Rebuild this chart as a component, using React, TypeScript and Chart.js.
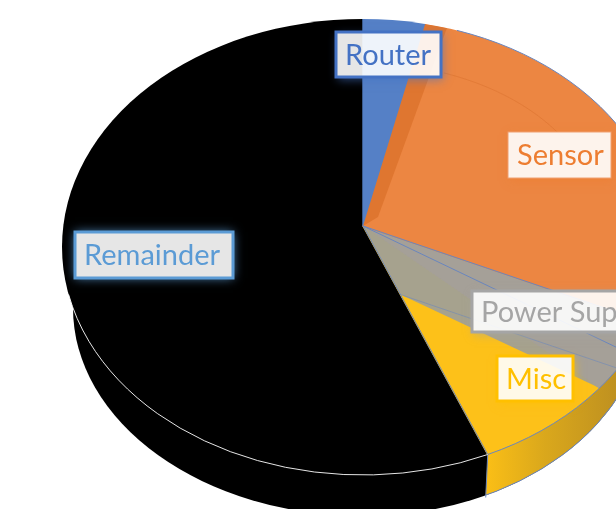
import React, { useEffect, useRef } from "react";
import { Chart, registerables } from "chart.js";

Chart.register(...registerables);

const categories = ["Router", "Sensor", "Power Supply", "Misc", "Remainder"];
const shares = [3.3, 27.9, 4.8, 7.25, 56.75];

const sliceFills = ["#5580C6", "#EC8642", "#A5A098", "#FDC119", "#000000"];
const labelInk = ["#4472C4", "#ED7D31", "#A5A5A5", "#FFC000", "#5B9BD5"];
const labelEdge = ["#4472C4", "#F0A070", "#A5A5A5", "#FFC000", "#5B9BD5"];
const labelEdgeWidth = [3, 1, 3, 3, 3];
const labelBoxes = [
  [336, 32, 105, 45],
  [508, 132, 103, 46],
  [472, 291, 170, 41],
  [497, 356, 76, 45],
  [75, 232, 158, 46],
];

const APEX_X = 363;
const APEX_Y = 226;
const RX = 301;
const RY_TOP = 206;
const RY_BOTTOM = 249;
const OVERSHOOT = 1.4;
const RIM_CY = 247;
const RIM_RY = 228;
const BASE_CY = 308;
const BASE_RY = 208;
const BASE_RX_LEFT = 290;
const BASE_RX_RIGHT = 282;
const FONT = "29px Lato, Carlito, sans-serif";

function project(rad: number, r = 1) {
  const ux = Math.sin(rad);
  const uy = -Math.cos(rad);
  const sy = uy < 0 ? RY_TOP : RY_BOTTOM;
  return { x: APEX_X + ux * RX * r, y: APEX_Y + uy * sy * r };
}

// where the ray from the apex in a slice direction meets the tilted rim
function rim(rad: number) {
  const p = project(rad);
  const dx = (p.x - APEX_X) / RX;
  const dy = (p.y - APEX_Y) / RIM_RY;
  const oy = (APEX_Y - RIM_CY) / RIM_RY;
  const a = dx * dx + dy * dy;
  const b = 2 * oy * dy;
  const c = oy * oy - 1;
  const t = (-b + Math.sqrt(b * b - 4 * a * c)) / (2 * a);
  return { x: APEX_X + (p.x - APEX_X) * t, y: APEX_Y + (p.y - APEX_Y) * t };
}

function rimParam(pt: { x: number; y: number }) {
  return Math.atan2((pt.y - RIM_CY) / RIM_RY, (pt.x - APEX_X) / RX);
}

function basePath(ctx: CanvasRenderingContext2D) {
  ctx.beginPath();
  ctx.ellipse(APEX_X, BASE_CY, BASE_RX_LEFT, BASE_RY, 0, Math.PI / 2, (3 * Math.PI) / 2);
  ctx.ellipse(APEX_X, BASE_CY, BASE_RX_RIGHT, BASE_RY, 0, -Math.PI / 2, Math.PI / 2);
  ctx.closePath();
}

const tiltedPie = {
  id: "tiltedPie",
  beforeDatasetsDraw(chart: any) {
    const ctx: CanvasRenderingContext2D = chart.ctx;
    const arcs = chart.getDatasetMeta(0).data;
    const deg = (a: number) => a + Math.PI / 2;
    const sensor = arcs[1];
    const power = arcs[2];
    const rest = arcs[4];
    const edge = deg(rest.startAngle);
    const footRim = rim(edge);

    // side wall
    ctx.save();
    basePath(ctx);
    ctx.fillStyle = "#000000";
    ctx.fill();
    ctx.beginPath();
    ctx.moveTo(footRim.x, footRim.y);
    ctx.lineTo(footRim.x - 3, footRim.y + 60);
    ctx.lineTo(700, footRim.y + 60);
    ctx.lineTo(700, 200);
    ctx.lineTo(footRim.x, 200);
    ctx.closePath();
    ctx.clip();
    basePath(ctx);
    const grad = ctx.createLinearGradient(485, 0, 616, 0);
    grad.addColorStop(0, "#FBBF16");
    grad.addColorStop(0.45, "#DAA81C");
    grad.addColorStop(1, "#BF9120");
    ctx.fillStyle = grad;
    ctx.fill();
    ctx.strokeStyle = "#6A86BE";
    ctx.lineWidth = 1;
    ctx.stroke();
    ctx.restore();
    ctx.save();
    ctx.strokeStyle = "#6A86BE";
    ctx.beginPath();
    ctx.moveTo(footRim.x, footRim.y);
    ctx.lineTo(footRim.x - 2, footRim.y + 43);
    ctx.stroke();
    ctx.restore();

    // top face: everything below stays inside the tilted rim
    ctx.save();
    ctx.beginPath();
    ctx.ellipse(APEX_X, RIM_CY, RX, RIM_RY, 0, 0, Math.PI * 2);
    ctx.clip();

    const quadrants = [
      [0, 0, 800, APEX_Y, RY_TOP],
      [0, APEX_Y, 800, 700, RY_BOTTOM],
    ];
    for (const [x, y, w, h, ry] of quadrants) {
      ctx.save();
      ctx.beginPath();
      ctx.rect(x, y, w - x, h - y);
      ctx.clip();
      ctx.translate(APEX_X, APEX_Y);
      ctx.scale((OVERSHOOT * RX) / rest.outerRadius, (OVERSHOOT * ry) / rest.outerRadius);
      ctx.translate(-rest.x, -rest.y);
      for (let i = arcs.length - 1; i >= 0; i--) arcs[i].draw(ctx);
      ctx.restore();
    }

    // inner wall of the Sensor slice
    const s0 = deg(sensor.startAngle);
    const sRim = rim(s0);
    const sRim2 = rim(s0 + 0.075);
    ctx.beginPath();
    ctx.moveTo(APEX_X, APEX_Y);
    ctx.lineTo(APEX_X + 15, APEX_Y - 9);
    ctx.lineTo(sRim2.x, sRim2.y);
    ctx.lineTo(sRim.x, sRim.y);
    ctx.closePath();
    ctx.fillStyle = "#DF7630";
    ctx.fill();
    ctx.strokeStyle = "rgba(214,110,45,0.45)";
    ctx.lineWidth = 1;
    ctx.beginPath();
    for (let i = 0; i <= 40; i++) {
      const p = project(s0 + 0.14 + (0.66 * i) / 40, 0.79);
      if (i === 0) ctx.moveTo(p.x, p.y);
      else ctx.lineTo(p.x, p.y);
    }
    ctx.stroke();

    // inner wall of the Power Supply slice
    const foot = {
      x: APEX_X + (footRim.x - APEX_X) * 0.3,
      y: APEX_Y + (footRim.y - APEX_Y) * 0.3,
    };
    const pEnd = rim(deg(power.endAngle));
    const pStart = rim(deg(power.startAngle));
    ctx.beginPath();
    ctx.moveTo(APEX_X, APEX_Y);
    ctx.lineTo(foot.x, foot.y);
    ctx.lineTo(pEnd.x, pEnd.y);
    ctx.closePath();
    ctx.fillStyle = "#A6A28E";
    ctx.fill();
    ctx.strokeStyle = "#6A86BE";
    ctx.beginPath();
    ctx.moveTo(APEX_X, APEX_Y);
    ctx.lineTo(footRim.x, footRim.y);
    ctx.moveTo(APEX_X, APEX_Y);
    const inner = rim(deg(power.startAngle) + 0.135);
    ctx.lineTo(inner.x, inner.y);
    ctx.moveTo(APEX_X, APEX_Y);
    ctx.lineTo(pStart.x, pStart.y);
    ctx.stroke();
    ctx.strokeStyle = "rgba(106,134,190,0.55)";
    ctx.beginPath();
    ctx.moveTo(foot.x, foot.y);
    ctx.lineTo(foot.x + (pStart.x - APEX_X), foot.y + (pStart.y - APEX_Y));
    ctx.stroke();
    ctx.restore();

    // rim lines
    ctx.save();
    ctx.lineWidth = 1;
    ctx.strokeStyle = "#6A86BE";
    ctx.beginPath();
    ctx.ellipse(APEX_X, RIM_CY, RX, RIM_RY, 0, rimParam(rim(deg(rest.startAngle) - 2.4)), rimParam(footRim));
    ctx.stroke();
    ctx.strokeStyle = "rgba(255,255,255,0.9)";
    ctx.beginPath();
    ctx.ellipse(APEX_X, RIM_CY, RX, RIM_RY, 0, rimParam(footRim), (168 * Math.PI) / 180);
    ctx.stroke();
    ctx.restore();

    // data labels
    categories.forEach((name, i) => {
      const [x, y, w, h] = labelBoxes[i];
      ctx.save();
      ctx.beginPath();
      ctx.rect(-50, -50, 800, 700);
      ctx.rect(x, y, w, h);
      ctx.clip("evenodd");
      ctx.shadowColor = i === 4 ? "rgba(91,155,213,0.9)" : labelInk[i];
      ctx.globalAlpha = i === 4 ? 1 : 0.6;
      ctx.shadowBlur = i === 4 ? 10 : 9;
      ctx.shadowOffsetX = i === 4 ? 0 : 2;
      ctx.shadowOffsetY = i === 4 ? 0 : 3;
      ctx.fillStyle = labelEdge[i];
      ctx.fillRect(x, y, w, h);
      ctx.restore();

      ctx.save();
      ctx.fillStyle = "rgba(255,255,255,0.9)";
      ctx.fillRect(x, y, w, h);
      ctx.strokeStyle = labelEdge[i];
      ctx.lineWidth = labelEdgeWidth[i];
      ctx.strokeRect(x, y, w, h);
      ctx.fillStyle = labelInk[i];
      ctx.font = FONT;
      ctx.textBaseline = "middle";
      ctx.fillText(name, x + 9, y + h / 2 + 1);
      ctx.restore();
    });
    return false;
  },
};

export default function App() {
  const ref = useRef<HTMLCanvasElement | null>(null);
  useEffect(() => {
    const chart = new Chart(ref.current as HTMLCanvasElement, {
      type: "pie",
      data: {
        labels: categories,
        datasets: [
          {
            data: shares,
            backgroundColor: sliceFills,
            borderColor: sliceFills,
            borderWidth: 1,
          },
        ],
      },
      options: {
        responsive: false,
        animation: false,
        radius: RX,
        layout: { padding: 0 },
        plugins: { legend: { display: false }, tooltip: { enabled: false } },
      } as any,
      plugins: [tiltedPie as any],
    });
    return () => chart.destroy();
  }, []);
  return (
    <div style={{ position: "fixed", left: 0, top: 0, width: 616, height: 509, overflow: "hidden", background: "#fff" }}>
      <canvas ref={ref} width={616} height={509} style={{ display: "block" }} />
    </div>
  );
}
